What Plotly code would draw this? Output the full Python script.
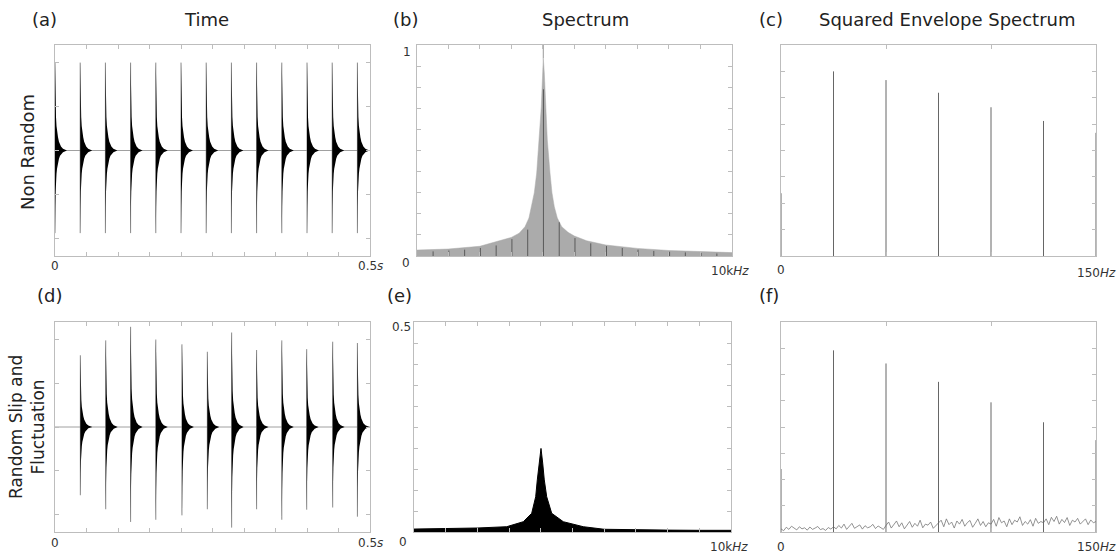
import numpy as np
import plotly.graph_objects as go

W, H = 1118, 554

# ---------------- data ----------------
# time panels (s)
time_range = [0.0, 0.5]
imp_t_a = [0.0, 0.04, 0.08, 0.12, 0.16, 0.20, 0.24, 0.28, 0.32, 0.36, 0.40, 0.44, 0.48]
imp_up_a = [2.0] * 13
imp_lo_a = [1.88] * 13

imp_t_d = [0.0402, 0.0805, 0.120, 0.160, 0.2015, 0.2418, 0.2804, 0.320, 0.360, 0.3995, 0.4408, 0.480]
imp_up_d = [1.64, 1.98, 2.29, 2.00, 1.89, 1.72, 2.16, 1.76, 1.98, 1.78, 1.95, 1.92]
imp_lo_d = [1.56, 1.88, 2.17, 2.12, 2.02, 1.88, 2.30, 1.88, 2.12, 1.89, 1.84, 2.05]

# decay envelope of one impulse (ms after impact, fraction of peak)
decay_ms = [0, 0.5, 1.0, 1.6, 2.4, 3.2, 4.8, 6.3, 8.0, 9.5, 12.7, 19]
decay_rel = [1, 0.68, 0.5, 0.38, 0.28, 0.22, 0.15, 0.1, 0.065, 0.045, 0.02, 0]

# spectrum (b), kHz
spec_f_b = [0, 1.0, 2.0, 2.64, 3.0, 3.25, 3.435, 3.56, 3.647, 3.73, 3.806, 3.888, 3.952, 3.996, 4.015,
            4.047, 4.091, 4.142, 4.228, 4.29, 4.364, 4.46, 4.599, 4.8, 5.0, 5.39, 6.0, 7.0, 8.0, 9.0, 10.0]
spec_a_b = [0.028, 0.033, 0.046, 0.072, 0.088, 0.108, 0.139, 0.18, 0.234, 0.3, 0.393, 0.55, 0.708, 0.867, 0.937,
            0.867, 0.708, 0.55, 0.393, 0.3, 0.234, 0.18, 0.139, 0.112, 0.095, 0.072, 0.052, 0.036, 0.026, 0.02, 0.016]
dark_f_b = [0.52, 1.02, 1.52, 2.02, 2.52, 3.02, 3.52, 4.02, 4.52, 5.02, 5.52, 6.02, 6.52,
            7.02, 7.52, 8.02, 8.52, 9.02, 9.52]
dark_a_b = [0.022, 0.026, 0.03, 0.038, 0.05, 0.08, 0.125, 0.79, 0.16, 0.085, 0.06, 0.047,
            0.038, 0.03, 0.024, 0.02, 0.017, 0.014, 0.012]
peak_tip_b = [4.015, 0.937, 1.0]

# spectrum (e), kHz
spec_f_e = [0, 1.0, 2.0, 2.924, 3.448, 3.713, 3.839, 3.890, 3.943, 4.006, 4.060, 4.110,
            4.186, 4.344, 4.71, 5.34, 6.0, 7.0, 8.0, 9.0, 10.0]
spec_a_e = [0.007, 0.008, 0.0095, 0.0126, 0.0245, 0.0445, 0.084, 0.124, 0.164, 0.199, 0.164,
            0.124, 0.084, 0.0445, 0.0245, 0.0126, 0.0065, 0.005, 0.0045, 0.004, 0.004]

# squared envelope spectra, Hz
harm_hz = [0, 25, 50, 75, 100, 125, 150]
harm_c = [2.38, 7.0, 6.67, 6.19, 5.64, 5.12, 4.67]
harm_f = [2.4, 6.92, 6.42, 5.72, 4.94, 4.18, 3.5]
noise_f = [0.12, 0.05, 0.18, 0.10, 0.22, 0.14, 0.08, 0.20, 0.12, 0.16, 0.07, 0.19, 0.10, 0.15, 0.21, 0.09, 0.13, 0.06, 0.17, 0.11,
           0.20, 0.12, 0.25, 0.15, 0.30, 0.10, 0.22, 0.33, 0.14, 0.19, 0.27, 0.11, 0.24, 0.16, 0.20, 0.29, 0.13, 0.23, 0.18, 0.10,
           0.25, 0.38, 0.15, 0.30, 0.42, 0.20, 0.35, 0.12, 0.28, 0.40, 0.18, 0.33, 0.22, 0.45, 0.16, 0.30, 0.26, 0.38, 0.14, 0.24,
           0.32, 0.45, 0.20, 0.50, 0.28, 0.38, 0.15, 0.42, 0.30, 0.48, 0.22, 0.36, 0.44, 0.18, 0.33, 0.50, 0.25, 0.40, 0.20, 0.35,
           0.30, 0.48, 0.22, 0.55, 0.35, 0.42, 0.20, 0.50, 0.28, 0.45, 0.38, 0.58, 0.25, 0.40, 0.30, 0.47, 0.22, 0.52, 0.33, 0.40,
           0.35, 0.50, 0.28, 0.56, 0.40, 0.60, 0.30, 0.48, 0.36, 0.55, 0.25, 0.45, 0.38, 0.52, 0.30, 0.42, 0.50, 0.28, 0.46, 0.35, 0.40]
noise_hz = list(np.linspace(0, 150, len(noise_f)))

# ---------------- layout helpers ----------------
def px_x(x):
    return x / W

def px_y(y):
    return 1 - y / H

panels = [
    # x0, x1, y0(top), y1(bottom), xrange, yrange, dx, dy
    (55, 370, 45, 256, time_range, [-2.4, 2.4], 0.05, 1),
    (416.7, 732, 45, 256, [0, 10], [0, 1], 1, 0.1),
    (781, 1096, 45, 256, [0, 150], [0, 8], 50, 1),
    (55, 370, 322, 532, time_range, [-2.4, 2.4], 0.05, 1),
    (414, 731, 322, 532, [0, 10], [0, 0.5], 1, 0.05),
    (781, 1096, 322, 532, [0, 150], [0, 8], 50, 1),
]

fig = go.Figure()
layout_axes = {}
FRAME = "#bdbdbd"
for i, (x0, x1, y0, y1, xr, yr, dx, dy) in enumerate(panels, start=1):
    sfx = "" if i == 1 else str(i)
    common = dict(showline=True, mirror="ticks", linecolor=FRAME, linewidth=1,
                  ticks="inside", ticklen=4, tickcolor=FRAME, tickwidth=1,
                  showticklabels=False, showgrid=False, zeroline=False, tick0=0)
    layout_axes["xaxis" + sfx] = dict(domain=[px_x(x0), px_x(x1)], range=xr, dtick=dx,
                                      anchor="y" + sfx, **common)
    layout_axes["yaxis" + sfx] = dict(domain=[px_y(y1), px_y(y0)], range=yr, dtick=dy,
                                      anchor="x" + sfx, **common)


def impulse_fill(times, ups, los, xa, ya):
    xs, ys = [], []
    for t0, au, al in zip(times, ups, los):
        for d, r in zip(decay_ms, decay_rel):
            xs.append(t0 + d / 1000.0)
            ys.append(au * r)
        for d, r in zip(decay_ms[::-1], decay_rel[::-1]):
            xs.append(t0 + d / 1000.0)
            ys.append(-al * r)
        xs.append(None)
        ys.append(None)
    return go.Scatter(x=xs, y=ys, mode="lines", fill="toself", fillcolor="black",
                      line=dict(color="black", width=0), xaxis=xa, yaxis=ya,
                      hoverinfo="skip", showlegend=False)


def impulse_spikes(times, ups, los, xa, ya):
    xs, ys = [], []
    for t0, au, al in zip(times, ups, los):
        xs += [t0, t0, None]
        ys += [-al, au, None]
    return go.Scatter(x=xs, y=ys, mode="lines", line=dict(color="#8c8c8c", width=1),
                      xaxis=xa, yaxis=ya, hoverinfo="skip", showlegend=False)


def baseline(xa, ya):
    return go.Scatter(x=time_range, y=[0, 0], mode="lines", line=dict(color="#a0a0a0", width=1),
                      xaxis=xa, yaxis=ya, hoverinfo="skip", showlegend=False)


def vlines(fs, hs, xa, ya, color, width):
    xs, ys = [], []
    for f, h in zip(fs, hs):
        xs += [f, f, None]
        ys += [0, h, None]
    return go.Scatter(x=xs, y=ys, mode="lines", line=dict(color=color, width=width),
                      xaxis=xa, yaxis=ya, hoverinfo="skip", showlegend=False)

# (a)
fig.add_trace(baseline("x", "y"))
fig.add_trace(impulse_spikes(imp_t_a, imp_up_a, imp_lo_a, "x", "y"))
fig.add_trace(impulse_fill(imp_t_a, imp_up_a, imp_lo_a, "x", "y"))
# (d)
fig.add_trace(baseline("x4", "y4"))
fig.add_trace(impulse_spikes(imp_t_d, imp_up_d, imp_lo_d, "x4", "y4"))
fig.add_trace(impulse_fill(imp_t_d, imp_up_d, imp_lo_d, "x4", "y4"))

# (b)
fig.add_trace(go.Scatter(x=spec_f_b, y=spec_a_b, mode="lines", fill="tozeroy",
                         fillcolor="#ababab", line=dict(color="#ababab", width=0.5),
                         xaxis="x2", yaxis="y2", hoverinfo="skip", showlegend=False))
fig.add_trace(vlines(dark_f_b, dark_a_b, "x2", "y2", "#5a5a5a", 1))
fig.add_trace(go.Scatter(x=[peak_tip_b[0]] * 2, y=peak_tip_b[1:], mode="lines",
                         line=dict(color="#999999", width=1), xaxis="x2", yaxis="y2",
                         hoverinfo="skip", showlegend=False))

# (e)
fig.add_trace(go.Scatter(x=spec_f_e, y=spec_a_e, mode="lines", fill="tozeroy",
                         fillcolor="black", line=dict(color="black", width=1),
                         xaxis="x5", yaxis="y5", hoverinfo="skip", showlegend=False))

# (c)
fig.add_trace(vlines(harm_hz, harm_c, "x3", "y3", "#666666", 1))
# (f)
fig.add_trace(go.Scatter(x=noise_hz, y=noise_f, mode="lines", line=dict(color="#777777", width=0.8),
                         xaxis="x6", yaxis="y6", hoverinfo="skip", showlegend=False))
fig.add_trace(vlines(harm_hz, harm_f, "x6", "y6", "#666666", 1))

# ---------------- text ----------------
FONT = "DejaVu Sans"
annotations = []

def add_text(text, x, y, size, color="#222", angle=0):
    annotations.append(dict(text=text, x=px_x(x), y=px_y(y), xref="paper", yref="paper",
                            xanchor="center", yanchor="middle", showarrow=False,
                            textangle=angle, font=dict(family=FONT, size=size, color=color)))

for txt, x, y in [("(a)", 44, 20), ("Time", 206, 20), ("(b)", 405, 20), ("Spectrum", 585, 20),
                  ("(c)", 771, 20), ("Squared Envelope Spectrum", 947, 20),
                  ("(d)", 49, 295), ("(e)", 399, 295), ("(f)", 769, 295)]:
    add_text(txt, x, y, 18)

add_text("Non Random", 27, 152, 18, angle=-90)
add_text("Random Slip and<br>Fluctuation", 27, 427, 17, angle=-90)

for txt, x, y in [("0", 55, 266), ("0.5<i>s</i>", 370, 266), ("0", 406, 263), ("1", 407, 52),
                  ("10k<i>Hz</i>", 730, 271), ("0", 781, 270), ("150<i>Hz</i>", 1096, 273),
                  ("0", 55, 543), ("0.5<i>s</i>", 370, 543), ("0", 403, 542), ("0.5", 401, 327),
                  ("10k<i>Hz</i>", 729, 547), ("0", 781, 547), ("150<i>Hz</i>", 1096, 547)]:
    add_text(txt, x, y, 12, color="#333")

fig.update_layout(width=W, height=H, margin=dict(l=0, r=0, t=0, b=0),
                  paper_bgcolor="white", plot_bgcolor="white",
                  annotations=annotations, showlegend=False, **layout_axes)

fig.write_html("out.html")
